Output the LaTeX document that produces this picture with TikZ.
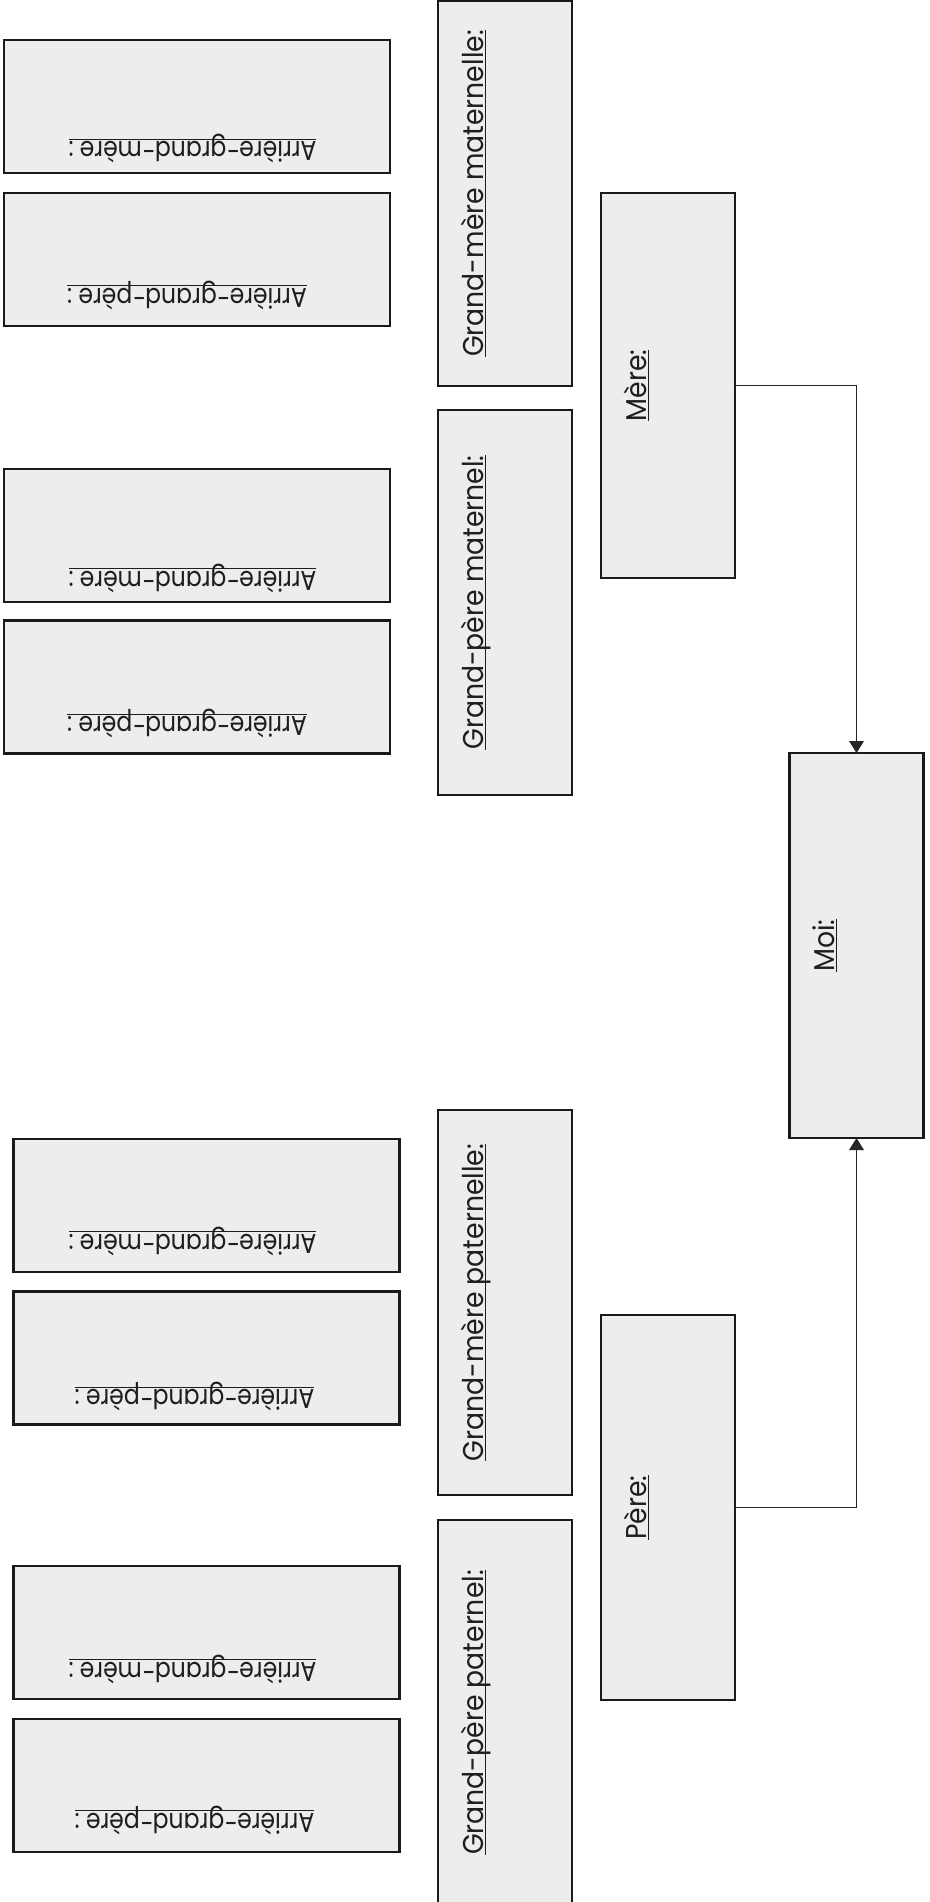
\documentclass[tikz,border=0pt]{standalone}
\usepackage{fontspec}
\setmainfont{Poppins}
\newfontfamily\tallfont{Poppins}[FakeStretch=0.93]
\newfontfamily\widefont{Poppins}[FakeStretch=0.86]
\usetikzlibrary{arrows.meta,calc}
\definecolor{boxfill}{HTML}{ECEDEC}
\definecolor{boxline}{HTML}{1A1A1A}
\definecolor{textcol}{HTML}{1E1E1E}
\begin{document}
\begin{tikzpicture}[x=0.75pt,y=-0.75pt,
  person/.style={draw=boxline, line width=1.7pt, fill=boxfill, inner sep=0pt, outer sep=0pt},
  tall/.style={person, minimum width=100.5pt, minimum height=288.75pt},
  wide/.style={person, minimum width=289.5pt, minimum height=99.75pt},
  lbl/.style={inner sep=0pt, outer sep=0pt, text=textcol, anchor=base},
  tlbl/.style={lbl, font=\tallfont\fontsize{21.5}{25}\selectfont},
  wlbl/.style={lbl, font=\widefont\fontsize{20.5}{24}\selectfont},
  uline/.style={draw=textcol, line width=0.6pt},
  link/.style={draw=black!85, line width=0.9pt, -{Triangle[length=9pt,width=11pt]}}
]
\useasboundingbox (0,0) rectangle (930,1902);
\fill[white] (0,0) rectangle (930,1902);

% tall boxes: name, center, text
\newcommand\tallbox[3]{%
  \node[tall] (#1) at #2 {};
  \node[tlbl, rotate=90] (#1t) at ($(#1.west)+(45,0)$) {#3};
  \draw[uline] ($(#1t.base west)!1.6pt!-90:(#1t.base east)$) -- ($(#1t.base east)!1.6pt!90:(#1t.base west)$);
}
% wide boxes: name, center, text, x shift of text, baseline height above bottom
\newcommand\widebox[5]{%
  \node[wide] (#1) at #2 {};
  \node[wlbl, rotate=180] (#1t) at ($(#1.south)+(#4,-#5)$) {#3};
  \draw[uline] ($(#1t.base west)!1.6pt!-90:(#1t.base east)$) -- ($(#1t.base east)!1.6pt!90:(#1t.base west)$);
}

\widebox{agmA}{(197,106.5)}{Arrière-grand-mère :}{-4.5}{31}
\widebox{agpA}{(197,259.5)}{Arrière-grand-père :}{-10}{38}
\widebox{agmB}{(197,535.5)}{Arrière-grand-mère :}{-4.5}{31}
\widebox{agpB}{(197,687)}{Arrière-grand-père :}{-10}{37}
\widebox{agmC}{(206.5,1205.5)}{Arrière-grand-mère :}{-14}{38}
\widebox{agpC}{(206.5,1358)}{Arrière-grand-père :}{-12}{35}
\widebox{agmD}{(206.5,1632.5)}{Arrière-grand-mère :}{-14}{37}
\widebox{agpD}{(206.5,1785.5)}{Arrière-grand-père :}{-12}{39}

\tallbox{gmm}{(505,193.5)}{Grand-mère maternelle:}
\tallbox{gpm}{(505,602.5)}{Grand-père maternel:}
\tallbox{gmp}{(505,1302.5)}{Grand-mère paternelle:}
\tallbox{gpp}{(505,1712.5)}{Grand-père paternel:}
\tallbox{mere}{(668,385.5)}{Mère:}
\tallbox{pere}{(668,1507.5)}{Père:}
\tallbox{moi}{(856.5,945.5)}{Moi:}

\draw[link] (mere.east) -| (moi.north);
\draw[link] (pere.east) -| (moi.south);
\end{tikzpicture}
\end{document}
